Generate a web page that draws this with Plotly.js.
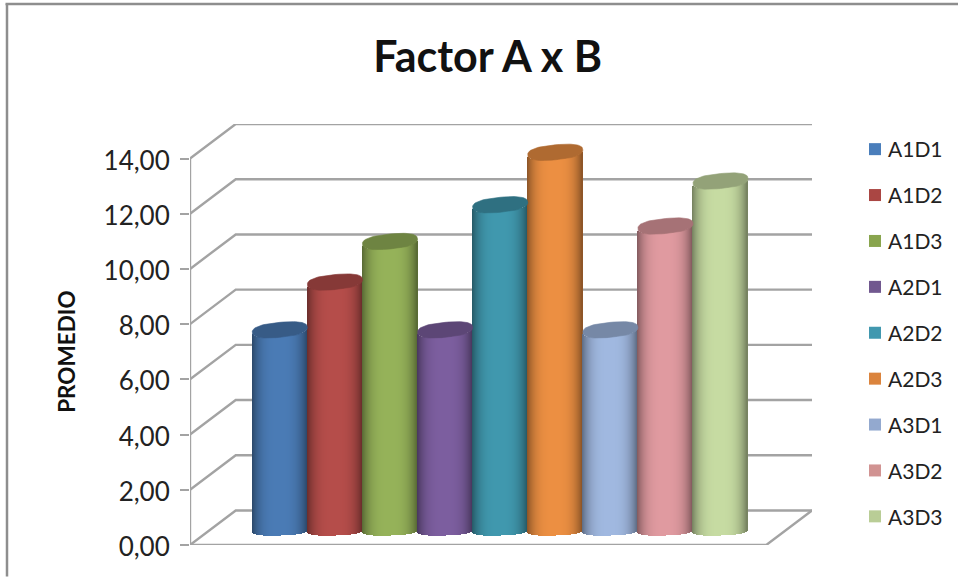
<!DOCTYPE html>
<html>
<head>
<meta charset="utf-8">
<script src="https://cdn.plot.ly/plotly-3.0.1.min.js"></script>
<style>
html,body{margin:0;padding:0;background:#fff;overflow:hidden}
#chart{width:958px;height:577px}
</style>
</head>
<body>
<div id="chart"></div>
<script>
// Mean response for each A x D treatment combination
const categories = ['A1D1','A1D2','A1D3','A2D1','A2D2','A2D3','A3D1','A3D2','A3D3'];
const values = [7.27, 9.0, 10.47, 7.27, 11.8, 13.7, 7.27, 11.03, 12.66];
const tickValues = [0, 2, 4, 6, 8, 10, 12, 14];
const tickLabels = ['0,00','2,00','4,00','6,00','8,00','10,00','12,00','14,00'];
const swatchColors = ['#4A7EBB','#AA4643','#89A54E','#71588F','#4198AF','#DB843D','#93A9CF','#D19392','#B9CD96'];
const bodyColors   = ['#4A7BB5','#B54D4A','#95B259','#7C5E9F','#4098AE','#EC8F42','#A0B8E0','#E09AA0','#C6DBA2'];

// Oblique projection of the chart box, in axis units
const axisLeft = -1.63, axisRight = 9.66;
const depthX = 0.83, depthY = 1.25;
const floorY = 0.524;
const yPerPx = 1 / 27.65;
const topSemi = 7.5 * yPerPx, topTilt = 2.5 * yPerPx;
const baseSemi = 5 * yPerPx, baseTilt = 1 * yPerPx;
const STRIPS = 55;
const ROUNDNESS = 2.5;   // superellipse exponent of the cylinder rims

function hexToRgb(h){ return [1,3,5].map(i => parseInt(h.substr(i,2),16)); }
function shade(hex, k){
  const c = hexToRgb(hex).map(v => Math.round(v*k));
  return 'rgb(' + c.join(',') + ')';
}
const rim = t => Math.pow(1 - Math.pow(Math.abs(t), ROUNDNESS), 1/ROUNDNESS);
const spow = v => Math.sign(v) * Math.pow(Math.abs(v), 2/ROUNDNESS);

const traces = [];
categories.forEach((name, i) => {
  const color = bodyColors[i];
  // Flat body: carries the legend entry and the hover value
  traces.push({
    type:'bar', name, x:[i], y:[values[i]], base:[floorY], width:0.8,
    marker:{color:swatchColors[i]}, legendgroup:name
  });
  // Shaded vertical strips that round the body off
  const xs=[], tops=[], bases=[], cols=[];
  for(let s=0;s<STRIPS;s++){
    const t = (s+0.5)/STRIPS*2-1;
    const arc = rim(t);
    const top = floorY + values[i] - topSemi*arc + topTilt*t;
    const bot = floorY - baseSemi*arc + baseTilt*t;
    xs.push(i + t/2);
    bases.push(bot);
    tops.push(top-bot);
    const edge = Math.pow(Math.abs(t),3.2);
    cols.push(shade(color, 1 - 0.42*edge));
  }
  traces.push({
    type:'bar', x:xs, y:tops, base:bases, width:1.25/STRIPS,
    marker:{color:cols, line:{width:0}}, showlegend:false, legendgroup:name, hoverinfo:'skip'
  });
});
// Top faces of the cylinders
categories.forEach((name, i) => {
  const ex=[], ey=[];
  for(let a=0;a<=72;a++){
    const th = a/72*2*Math.PI, c = spow(Math.cos(th)), sn = spow(Math.sin(th));
    ex.push(i + c/2);
    ey.push(floorY + values[i] + topSemi*sn + topTilt*c);
  }
  traces.push({
    type:'scatter', mode:'lines', x:ex, y:ey, fill:'toself',
    fillcolor:shade(bodyColors[i],0.74), line:{width:0.6,color:shade(bodyColors[i],0.74)},
    showlegend:false, legendgroup:name, hoverinfo:'skip', cliponaxis:false
  });
});

// Walls and floor of the box, drawn beneath the cylinders
const wall = {color:'#a3a3a3', width:2.4};
const shapes = [];
const backRight = axisRight;
tickValues.forEach(v => {
  shapes.push({
    type:'path', layer:'below', xref:'x', yref:'y', line:wall,
    path:`M${axisLeft},${v} L${axisLeft+depthX},${v+depthY} L${backRight},${v+depthY}`
  });
});
shapes.push({
  type:'path', layer:'below', xref:'x', yref:'y', line:wall,
  path:`M${backRight},${depthY} L${backRight-depthX},0 L${axisLeft},0`
});
shapes.push({
  type:'line', layer:'below', xref:'x', yref:'y', line:wall,
  x0:axisLeft, x1:axisLeft, y0:0, y1:14
});
// Outer frame of the chart area
const plotL=190, plotW=622, plotT=123.7, plotH=421.8;
const px = v => (v-plotL)/plotW, py = v => 1-(v-plotT)/plotH;
const frame = {color:'#8e8e8e', width:2.5};
shapes.push({type:'line', xref:'paper', yref:'paper', line:frame, x0:px(5.5), x1:px(958), y0:py(3.5), y1:py(3.5)});
shapes.push({type:'line', xref:'paper', yref:'paper', line:frame, x0:px(7), x1:px(7), y0:py(3.5), y1:py(577)});

const layout = {
  width:958, height:577,
  paper_bgcolor:'#fff', plot_bgcolor:'rgba(0,0,0,0)',
  margin:{l:190, r:146, t:123.7, b:31.5, pad:0},
  barmode:'overlay', bargap:0,
  title:{text:'<b>Factor A x B</b>', font:{family:'Lato', size:43, color:'#111'},
         x:0.509, xanchor:'center', y:0.901, yanchor:'middle'},
  xaxis:{range:[axisLeft,axisRight], visible:false, fixedrange:true},
  yaxis:{range:[0,15.25], tickmode:'array', tickvals:tickValues, ticktext:tickLabels,
         ticks:'outside', ticklen:9, tickwidth:2, tickcolor:'#a3a3a3', ticklabelstandoff:5,
         ticklabelshift:2,
         showgrid:false, zeroline:false, showline:false, fixedrange:true,
         tickfont:{family:'Lato', size:26, color:'#222'}},
  annotations:[{text:'<b>PROMEDIO</b>', textangle:-90, showarrow:false, xref:'paper', yref:'paper',
                x:px(67), y:py(352), xanchor:'center', yanchor:'middle',
                font:{family:'Lato', size:22.5, color:'#111'}}],
  legend:{xref:'container', yref:'container', x:855/958, xanchor:'left', y:1-129/577, yanchor:'top',
          traceorder:'grouped', tracegroupgap:15.6, maxheight:446, font:{family:'Lato', size:21, color:'#222'},
          bgcolor:'rgba(0,0,0,0)', itemclick:false, itemdoubleclick:false},
  shapes, showlegend:true
};
Plotly.newPlot('chart', traces, layout, {displayModeBar:false}).then(() => {
  // Bring the legend labels closer to their colour keys
  document.querySelectorAll('.legendtext').forEach(t => t.setAttribute('x', 33));
});
</script>
</body>
</html>
